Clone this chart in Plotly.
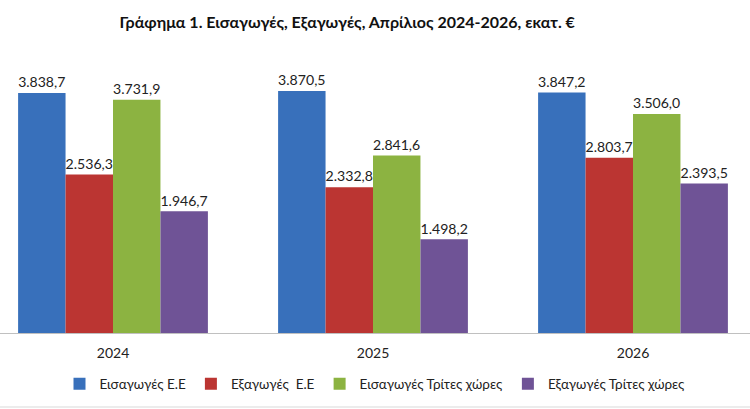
import plotly.graph_objects as go

years = ["2024", "2025", "2026"]
series_names = ["Εισαγωγές Ε.Ε", "Εξαγωγές  Ε.Ε", "Εισαγωγές Τρίτες χώρες", "Εξαγωγές Τρίτες χώρες"]
imports_eu = [3838.7, 3870.5, 3847.2]
exports_eu = [2536.3, 2332.8, 2803.7]
imports_third = [3731.9, 2841.6, 3506.0]
exports_third = [1946.7, 1498.2, 2393.5]
colors = ["#3870bb", "#bb3532", "#8cb341", "#6f5396"]

W, H = 750, 409
fig = go.Figure()
for name, vals, col in zip(series_names, [imports_eu, exports_eu, imports_third, exports_third], colors):
    fig.add_trace(go.Bar(
        x=years, y=vals, name=name,
        marker=dict(color=col, line=dict(width=0)),
        texttemplate="%{y:,.1f}", textposition="outside",
        textfont=dict(size=15, color="#222222"),
        cliponaxis=False,
    ))

fig.update_layout(
    width=W, height=H,
    separators=",.",
    font=dict(family="Lato, Open Sans, sans-serif", color="#222222"),
    paper_bgcolor="white", plot_bgcolor="white",
    margin=dict(l=0, r=0, t=83, b=76),
    barmode="group", bargap=0.27, bargroupgap=0,
    title=dict(text="<b>Γράφημα 1. Εισαγωγές, Εξαγωγές, Απρίλιος 2024-2026, εκατ. €</b>",
               x=0.463, xanchor="center", y=1 - 22 / H, yanchor="middle",
               font=dict(size=16, color="#111111")),
    xaxis=dict(range=[-113 / 260, (750 - 113) / 260], showline=True, linecolor="#c0c0c0",
               linewidth=1, ticks="", tickfont=dict(size=14), showgrid=False,
               ticklabelstandoff=7),
    yaxis=dict(range=[0, 4000], visible=False, showgrid=False),
    legend=dict(orientation="h", x=0.5, xanchor="center", y=-0.204, yanchor="middle",
                font=dict(size=13.5), itemwidth=30, traceorder="normal"),
    shapes=[dict(type="line", xref="paper", yref="paper", x0=0, x1=1,
                 y0=-(407 - 333) / 250, y1=-(407 - 333) / 250,
                 line=dict(color="#d9d9d9", width=1))],
)
fig.write_html("out.html")
